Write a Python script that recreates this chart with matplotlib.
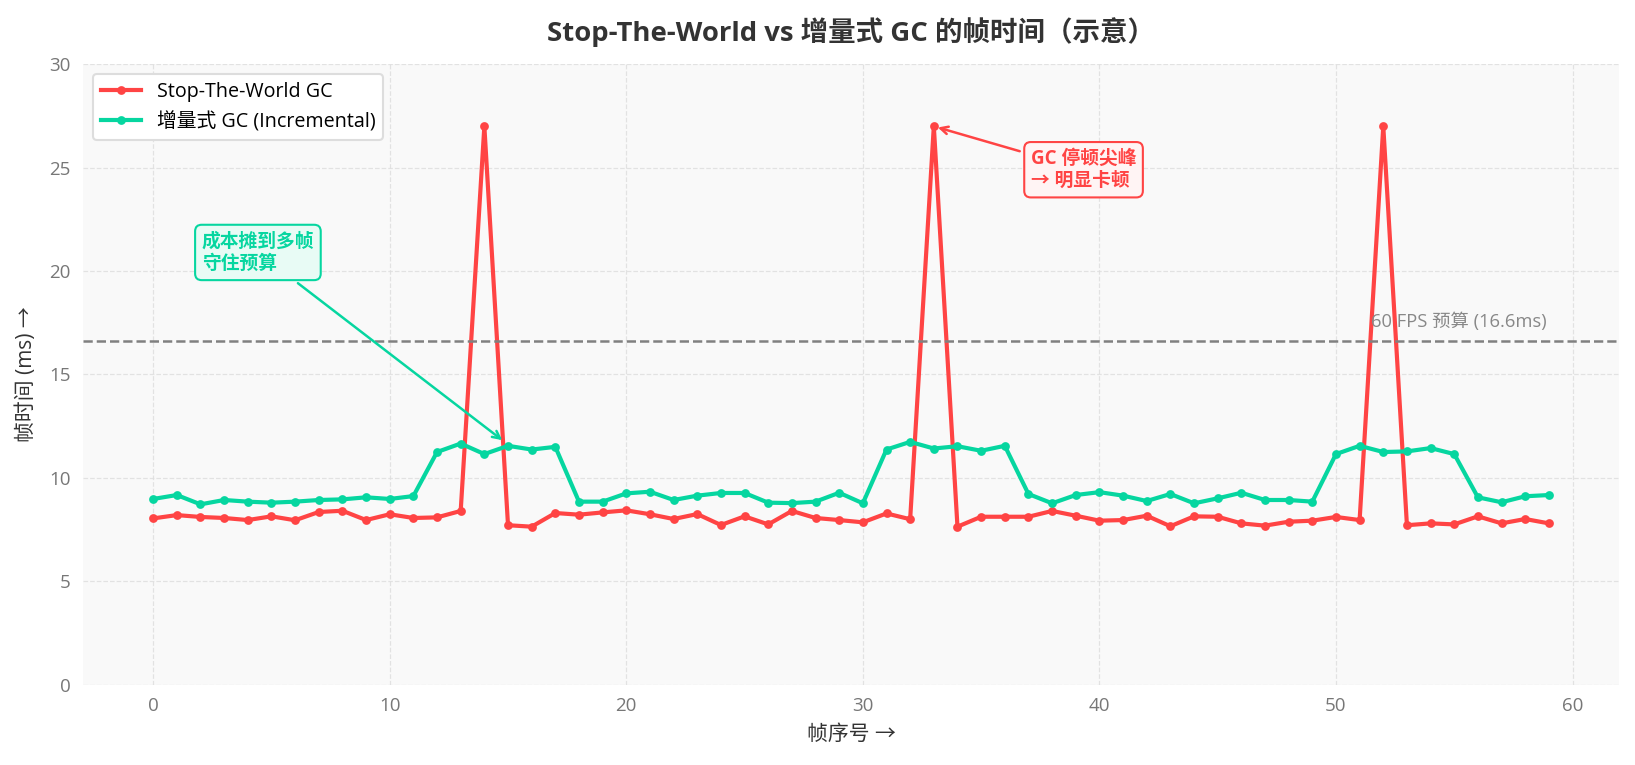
import matplotlib
matplotlib.use("Agg")
import matplotlib.pyplot as plt
import numpy as np

plt.rcParams['font.family'] = ['Open Sans', 'Noto Sans CJK SC', 'DejaVu Sans']
plt.rcParams['axes.unicode_minus'] = False

frames = list(range(60))
stw = [8.04, 8.20, 8.11, 8.06, 7.96, 8.14, 7.95, 8.35, 8.41, 7.96,
       8.24, 8.06, 8.09, 8.40, 27.0, 7.71, 7.64, 8.30, 8.22, 8.33,
       8.43, 8.24, 8.01, 8.25, 7.72, 8.14, 7.75, 8.40, 8.06, 7.96,
       7.85, 8.28, 8.00, 27.0, 7.64, 8.12, 8.12, 8.12, 8.40, 8.17,
       7.93, 7.96, 8.17, 7.66, 8.14, 8.12, 7.80, 7.69, 7.88, 7.93,
       8.11, 7.96, 27.0, 7.71, 7.80, 7.75, 8.14, 7.80, 8.01, 7.80]
inc = [8.98, 9.17, 8.72, 8.93, 8.85, 8.80, 8.85, 8.93, 8.96, 9.06,
       8.98, 9.12, 11.25, 11.66, 11.15, 11.55, 11.37, 11.50, 8.85, 8.85,
       9.25, 9.33, 8.93, 9.14, 9.27, 9.27, 8.80, 8.78, 8.85, 9.28,
       8.77, 11.37, 11.74, 11.42, 11.53, 11.31, 11.55, 9.22, 8.77, 9.17,
       9.31, 9.14, 8.88, 9.22, 8.77, 9.01, 9.28, 8.93, 8.93, 8.85,
       11.15, 11.55, 11.25, 11.28, 11.44, 11.15, 9.06, 8.82, 9.11, 9.17]
budget = 16.6

RED = '#FF4444'
GREEN = '#06D6A0'

fig = plt.figure(figsize=(10.9, 5.1), dpi=150)
ax = fig.add_axes([0.051, 0.105, 0.939, 0.811])
ax.set_facecolor('#f9f9f9')

ax.plot(frames, stw, color=RED, lw=2, marker='o', ms=3.2, label='Stop-The-World GC')
ax.plot(frames, inc, color=GREEN, lw=2, marker='o', ms=3.2, label='增量式 GC (Incremental)')
ax.axhline(budget, color='#808080', ls='--', lw=1.2)
ax.text(51.5, budget + 0.5, '60 FPS 预算 (16.6ms)', color='#888888', fontsize=8.8, va='bottom', ha='left')

ax.annotate('GC 停顿尖峰\n→ 明显卡顿', xy=(33, 27), xytext=(37.1, 24.9),
            fontsize=9, fontweight='bold', color=RED, va='center', ha='left',
            linespacing=1.15,
            bbox=dict(boxstyle='round,pad=0.35', fc='#fff4f4', ec=RED, lw=1.0),
            arrowprops=dict(arrowstyle='->', color=RED, lw=1.2))
ax.annotate('成本摊到多帧\n守住预算', xy=(14.9, 11.7), xytext=(2.05, 20.9),
            fontsize=9, fontweight='bold', color=GREEN, va='center', ha='left',
            linespacing=1.15,
            bbox=dict(boxstyle='round,pad=0.35', fc='#e8fbf5', ec=GREEN, lw=1.0),
            arrowprops=dict(arrowstyle='->', color=GREEN, lw=1.2))

ax.set_ylim(0, 30)
ax.set_xlim(-2.95, 61.95)
ax.set_xticks([0, 10, 20, 30, 40, 50, 60])
ax.set_yticks([0, 5, 10, 15, 20, 25, 30])
ax.grid(True, ls='--', color='#dddddd', lw=0.6, alpha=0.8)
ax.set_axisbelow(True)
for s in ax.spines.values():
    s.set_visible(False)
ax.tick_params(length=0, labelsize=9, labelcolor='#777777', pad=6)
ax.set_xlabel('帧序号 →', fontsize=10, color='#333333', labelpad=4)
ax.set_ylabel('帧时间 (ms) →', fontsize=10, color='#333333', labelpad=6)
ax.set_title('Stop-The-World vs 增量式 GC 的帧时间（示意）', fontsize=13.2, fontweight='bold',
             color='#333333', pad=11)
leg = ax.legend(loc='upper left', fontsize=9.5, frameon=True, facecolor='white',
                edgecolor='#dddddd', framealpha=1)

fig.savefig('out.png', dpi=150)
